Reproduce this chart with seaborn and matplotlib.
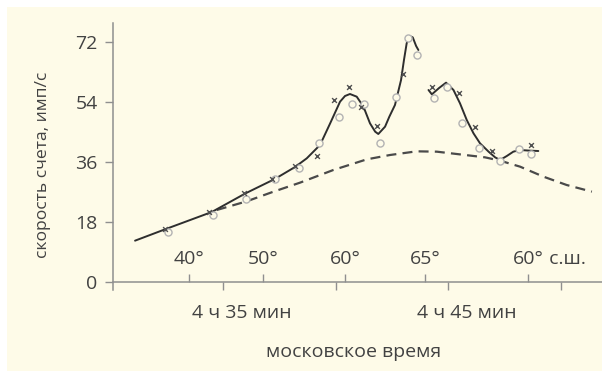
import matplotlib
matplotlib.use("Agg")
import matplotlib.pyplot as plt
import matplotlib.transforms as mtransforms
import seaborn as sns
import pandas as pd
from matplotlib.patches import Rectangle

# ---------------- data (x in minutes after 4 h, y = count rate) ----------------
seg1_x = [31.09, 32.5, 34.5, 36.0, 37.3, 38.2, 38.72, 39.31, 39.76, 40.2, 40.42, 40.64,
          40.94, 41.24, 41.53, 41.76, 41.9, 42.2, 42.39, 42.64, 42.91, 43.04, 43.16,
          43.28, 43.43, 43.58, 43.68]
seg1_y = [12.4, 16.0, 21.0, 26.6, 30.9, 34.5, 37.1, 41.1, 47.6, 54.1, 55.8, 56.4,
          55.6, 52.6, 47.6, 45.1, 44.4, 46.6, 49.6, 53.1, 60.6, 66.6, 71.6,
          73.8, 73.4, 70.8, 69.6]
seg2_x = [44.13, 44.28, 44.6, 44.91, 45.24, 45.53, 45.83, 46.13, 46.42, 46.8, 47.09,
          47.31, 47.61, 47.9, 48.2, 48.64, 49.01]
seg2_y = [57.6, 56.3, 58.2, 59.8, 57.6, 53.6, 48.6, 44.6, 41.6, 39.1, 37.4,
          36.6, 37.8, 39.1, 39.6, 39.4, 39.3]

dash_x = [34.72, 36.05, 37.2, 38.42, 39.9, 41.39, 42.42, 43.6, 44.5, 45.76, 46.64,
          47.31, 48.2, 49.24, 50.27, 51.39]
dash_y = [21.6, 24.2, 27.0, 29.8, 33.6, 36.8, 38.1, 39.2, 39.1, 38.1, 37.4,
          36.4, 34.6, 31.6, 29.1, 27.1]

circ_x = [32.57, 34.57, 36.02, 37.31, 38.38, 39.27, 40.17, 40.75, 41.28, 41.98, 42.67,
          43.24, 43.61, 44.38, 44.97, 45.6, 46.38, 47.31, 48.16, 48.7]
circ_y = [15.1, 20.1, 24.8, 30.8, 34.3, 41.8, 49.4, 53.4, 53.3, 41.8, 55.6,
          73.3, 68.1, 55.1, 58.5, 47.8, 40.2, 36.3, 39.8, 38.5]

cross_x = [32.43, 34.39, 35.93, 37.16, 38.2, 39.19, 39.93, 40.61, 41.12, 41.85, 42.99,
           44.3, 45.5, 46.2, 46.94, 48.69]
cross_y = [15.8, 21.1, 26.8, 30.8, 34.8, 37.8, 54.7, 58.4, 52.5, 46.8, 62.5,
           58.5, 56.8, 46.6, 39.3, 41.2]

time_ticks = [35, 40, 45, 50]
time_labels = ["4 ч 35 мин", "", "4 ч 45 мин", ""]
lat_ticks = [33.49, 36.78, 40.42, 43.98, 48.56]
lat_labels = ["40°", "50°", "60°", "65°", "60°"]
lat_suffix = " с.ш."
y_ticks = [0, 18, 36, 54, 72]

# ---------------- style ----------------
BG = "#FEFBE8"
TXT = "#424242"
AX = "#8f8f8f"
LINE = "#2e2e2e"
FS = 14

sns.set_theme(style="ticks")
plt.rcParams["font.family"] = ["Open Sans", "DejaVu Sans"]

fig = plt.figure(figsize=(6.02, 3.71), dpi=100, facecolor="white")
fig.patches.append(Rectangle((7 / 602, 0), 1, 364 / 371, transform=fig.transFigure,
                             facecolor=BG, edgecolor="none", zorder=-10))
ax = fig.add_axes([113 / 602, 89 / 371, 489 / 602, 259 / 371])
ax.set_facecolor("none")

solid = pd.DataFrame({
    "x": seg1_x + seg2_x,
    "y": seg1_y + seg2_y,
    "seg": [1] * len(seg1_x) + [2] * len(seg2_x),
})
sns.lineplot(data=solid, x="x", y="y", units="seg", estimator=None, sort=False,
             color=LINE, linewidth=1.4, ax=ax, zorder=3)
sns.lineplot(x=dash_x, y=dash_y, sort=False, color="#4a4a4a", linewidth=1.6,
             dashes=False, ax=ax, zorder=2)
ax.lines[-1].set_linestyle((0, (4.5, 2.8)))
sns.scatterplot(x=circ_x, y=circ_y, marker="o", s=26, facecolor=BG,
                edgecolor="#b3b3b3", linewidth=1.0, ax=ax, zorder=4)
sns.scatterplot(x=cross_x, y=cross_y, marker="x", s=12, color="#505050",
                linewidth=1.0, ax=ax, zorder=5)

ax.set_xlim(30.11, 51.84)
ax.set_ylim(0, 77.7)

for s in ["top", "right"]:
    ax.spines[s].set_visible(False)
for s in ["left", "bottom"]:
    ax.spines[s].set_color(AX)
    ax.spines[s].set_linewidth(1.1)
ax.spines["left"].set_bounds(-2.4, 77.7)

ax.set_yticks(y_ticks)
ax.set_xticks(time_ticks, labels=time_labels)
ax.tick_params(axis="y", length=6, width=1, color=AX, pad=5, labelsize=FS,
               labelcolor=TXT)
ax.tick_params(axis="x", length=6, width=1, color=AX, pad=10, labelsize=FS,
               labelcolor=TXT)
shift = mtransforms.ScaledTranslation(19 / 100, 0, fig.dpi_scale_trans)
for lab in ax.get_xticklabels():
    lab.set_transform(lab.get_transform() + shift)

sec = ax.secondary_xaxis(0.0)
sec.set_alignment("top")
sec.spines["top"].set_visible(False)
sec.set_xticks(lat_ticks, labels=lat_labels)
sec.tick_params(axis="x", direction="out", length=6, width=1, color=AX, pad=4,
                labelsize=FS, labelcolor=TXT)
last = sec.get_xticklabels()[-1]
ax.annotate(lat_suffix, xy=(1, 0.5), xycoords=last, ha="left", va="center",
            fontsize=FS, color=TXT)

ax.set_ylabel("скорость счета, имп/с", fontsize=12.6, color=TXT)
ax.yaxis.set_label_coords(-0.143, 0.452)
ax.yaxis.label.set_va("center")
ax.set_xlabel("московское время", fontsize=FS, color=TXT)
ax.xaxis.set_label_coords(0.491, -0.27)
ax.xaxis.label.set_va("center")

fig.savefig("out.png", dpi=100, facecolor="white")
